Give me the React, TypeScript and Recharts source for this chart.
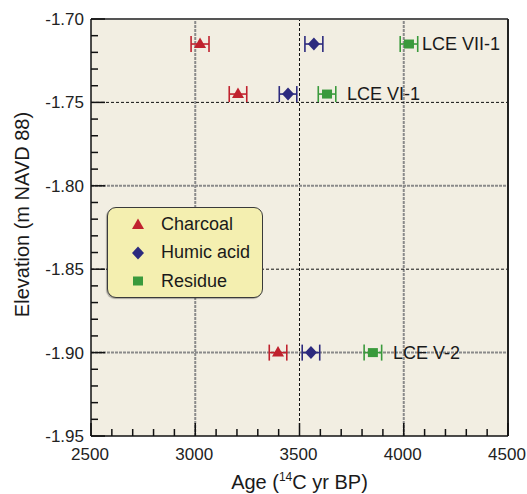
import React from 'react';
import {
  ScatterChart, Scatter, XAxis, YAxis, CartesianGrid, ReferenceLine,
  ErrorBar, LabelList, Legend, Label,
} from 'recharts';

// sample sites, one row per elevation
const sites = ['LCE VII-1', 'LCE VI-1', 'LCE V-2'];
const elevations = [-1.715, -1.745, -1.9];

// 14C ages and 1-sigma errors for each fraction
const charcoalAge = [3023, 3205, 3397];
const charcoalErr = [43, 42, 42];
const humicAge = [3569, 3445, 3555];
const humicErr = [43, 42, 42];
const residueAge = [4025, 3632, 3852];
const residueErr = [42, 42, 42];

const xMajor = [2500, 3000, 3500, 4000, 4500];
const xMajorLabels = ['2500', '3000', '3500', '4000', '4500'];
const yMajor = [-1.95, -1.9, -1.85, -1.8, -1.75, -1.7];
const yMajorLabels = ['-1.95', '-1.90', '-1.85', '-1.80', '-1.75', '-1.70'];
const xMinorStep = 100;
const yMinorStep = 0.01;

const RED = '#c0222e';
const NAVY = '#2c2a7e';
const GREEN = '#3a9a3c';
const FONT = '"Liberation Sans", Arial, Helvetica, sans-serif';

const W = 527;
const H = 494;
const M = { top: 19, right: 19, left: 0, bottom: 0 };
const PLOT_RIGHT = W - M.right;

// minor ticks between the labelled ones
const subdivide = (major: number[], step: number) => {
  const out: number[] = [];
  for (let i = 0; i < major.length - 1; i++) {
    const n = Math.round((major[i + 1] - major[i]) / step);
    for (let k = 0; k < n; k++) out.push(Math.round((major[i] + k * step) * 1000) / 1000);
  }
  out.push(major[major.length - 1]);
  return out;
};
const xTicks = subdivide(xMajor, xMinorStep);
const yTicks = subdivide(yMajor, yMinorStep);

const build = (ages: number[], errs: number[]) =>
  ages.map((age, i) => ({ age, elev: elevations[i], err: errs[i], site: sites[i] }));

const charcoal = build(charcoalAge, charcoalErr);
const humic = build(humicAge, humicErr);
const residue = build(residueAge, residueErr);

const findMajor = (list: number[], v: number) => list.findIndex((m) => Math.abs(m - v) < 1e-6);

const XTick = (props: any) => {
  const { x, y, payload } = props;
  const idx = findMajor(xMajor, payload.value);
  const major = idx >= 0;
  return (
    <g>
      <line x1={x} x2={x} y1={y} y2={y - (major ? 13 : 7)} stroke="#111" strokeWidth={1.5} />
      {major && (
        <text x={x - 1} y={y + 24} textAnchor="middle" fontSize={17} fill="#222" fontFamily={FONT}>
          {xMajorLabels[idx]}
        </text>
      )}
    </g>
  );
};

const YTick = (props: any) => {
  const { x, y, payload } = props;
  const idx = findMajor(yMajor, payload.value);
  const major = idx >= 0;
  return (
    <g>
      <line x1={x} x2={x + (major ? 14 : 7)} y1={y} y2={y} stroke="#111" strokeWidth={1.5} />
      {major && (
        <text x={x - 7} y={y + 6} textAnchor="end" fontSize={17} fill="#222" fontFamily={FONT}>
          {yMajorLabels[idx]}
        </text>
      )}
    </g>
  );
};

const Triangle = ({ cx, cy, fill }: any) => (
  <polygon points={`${cx},${cy - 6.5} ${cx - 6},${cy + 4} ${cx + 6},${cy + 4}`} fill={fill} />
);
const Diamond = ({ cx, cy, fill }: any) => (
  <polygon points={`${cx},${cy - 6.5} ${cx + 6},${cy} ${cx},${cy + 6.5} ${cx - 6},${cy}`} fill={fill} />
);
const Square = ({ cx, cy, fill }: any) => (
  <rect x={cx - 5} y={cy - 4.5} width={10} height={9} fill={fill} />
);

const SiteLabel = (props: any) => {
  const vb = props.viewBox || props;
  const cx = vb.x + (vb.width || 0) / 2;
  const cy = vb.y + (vb.height || 0) / 2;
  const text = String(props.value);
  const est = text.length * 9;
  const x = Math.min(cx + 20, PLOT_RIGHT - 5 - est);
  return (
    <text x={x} y={cy + 6} fontSize={18} fill="#1a1a1a" fontFamily={FONT}>
      {text}
    </text>
  );
};

const legendItems = [
  { name: 'Charcoal', color: RED, shape: 'tri' },
  { name: 'Humic acid', color: NAVY, shape: 'dia' },
  { name: 'Residue', color: GREEN, shape: 'sq' },
];

const LegendBox = () => (
  <div
    style={{
      width: 156, height: 91, boxSizing: 'border-box', background: '#f4efb0',
      border: '1.3px solid #3a3a3a', borderRadius: 9, position: 'relative',
      boxShadow: '-1px 1px 1px rgba(0,0,0,0.3)', fontFamily: FONT,
    }}
  >
    {legendItems.map((it, i) => (
      <div key={it.name} style={{ position: 'absolute', left: 0, top: 4 + i * 28.5, height: 24, display: 'flex', alignItems: 'center' }}>
        <svg width={16} height={16} style={{ marginLeft: 22 }}>
          {it.shape === 'tri' && <Triangle cx={8} cy={9} fill={it.color} />}
          {it.shape === 'dia' && <Diamond cx={8} cy={8} fill={it.color} />}
          {it.shape === 'sq' && <Square cx={8} cy={8} fill={it.color} />}
        </svg>
        <span style={{ marginLeft: 15, fontSize: 18, color: '#1a1a1a' }}>{it.name}</span>
      </div>
    ))}
  </div>
);

const XTitle = (props: any) => {
  const vb = props.viewBox;
  return (
    <text x={vb.x + vb.width / 2} y={vb.y + 53} textAnchor="middle" fontSize={20} fill="#1a1a1a" fontFamily={FONT}>
      Age (<tspan fontSize={12} dy={-8}>14</tspan>
      <tspan dy={8}>C yr BP)</tspan>
    </text>
  );
};

const YTitle = (props: any) => {
  const vb = props.viewBox;
  const cx = 29;
  const cy = vb.y + vb.height / 2 - 13;
  return (
    <text x={cx} y={cy} transform={`rotate(-90, ${cx}, ${cy})`} textAnchor="middle" fontSize={20} fill="#1a1a1a" fontFamily={FONT}>
      Elevation (m NAVD 88)
    </text>
  );
};

export default function App() {
  return (
    <div style={{ position: 'absolute', left: 0, top: 0, width: W, height: H, background: '#fff' }}>
      <ScatterChart width={W} height={H} margin={M} style={{ fontFamily: FONT }}>
        <CartesianGrid fill="#f2eee2" horizontal={false} vertical={false} stroke="none" />
        <ReferenceLine x={3000} stroke="#8a8a8a" strokeWidth={2} strokeDasharray="3 1" />
        <ReferenceLine x={3500} stroke="#111" strokeWidth={1} strokeDasharray="3 2" />
        <ReferenceLine x={4000} stroke="#8a8a8a" strokeWidth={2} strokeDasharray="3 1" />
        <ReferenceLine y={-1.75} stroke="#111" strokeWidth={1} strokeDasharray="3 2" />
        <ReferenceLine y={-1.8} stroke="#8a8a8a" strokeWidth={2} strokeDasharray="3 1" />
        <ReferenceLine y={-1.85} stroke="#111" strokeWidth={1} strokeDasharray="3 2" />
        <ReferenceLine y={-1.9} stroke="#8a8a8a" strokeWidth={2} strokeDasharray="3 1" />
        <ReferenceLine y={-1.7} stroke="#555" strokeWidth={2} />
        <ReferenceLine x={4500} stroke="#222" strokeWidth={2} />
        <XAxis
          dataKey="age" type="number" domain={[2500, 4500]} ticks={xTicks} interval={0}
          tickLine={false} tickSize={0} tickMargin={0} tick={<XTick />} height={58}
          axisLine={{ stroke: '#111', strokeWidth: 1.5 }} allowDataOverflow
        >
          <Label content={<XTitle />} />
        </XAxis>
        <YAxis
          dataKey="elev" type="number" domain={[-1.95, -1.7]} ticks={yTicks} interval={0}
          tickLine={false} tickSize={0} tickMargin={0} tick={<YTick />} width={91}
          axisLine={{ stroke: '#111', strokeWidth: 1.5 }} allowDataOverflow
        >
          <Label content={<YTitle />} />
        </YAxis>
        <Legend
          layout="vertical" align="center" verticalAlign="middle"
          wrapperStyle={{ left: 107, top: 207, width: 156, height: 91 }}
          content={<LegendBox />}
        />
        <Scatter name="Charcoal" data={charcoal} fill={RED} shape={<Triangle />} isAnimationActive={false}>
          <ErrorBar dataKey="err" direction="x" width={8} stroke={RED} strokeWidth={1.6} />
        </Scatter>
        <Scatter name="Humic acid" data={humic} fill={NAVY} shape={<Diamond />} isAnimationActive={false}>
          <ErrorBar dataKey="err" direction="x" width={8} stroke={NAVY} strokeWidth={1.6} />
        </Scatter>
        <Scatter name="Residue" data={residue} fill={GREEN} shape={<Square />} isAnimationActive={false}>
          <ErrorBar dataKey="err" direction="x" width={8} stroke={GREEN} strokeWidth={1.6} />
          <LabelList dataKey="site" content={<SiteLabel />} />
        </Scatter>
      </ScatterChart>
    </div>
  );
}
